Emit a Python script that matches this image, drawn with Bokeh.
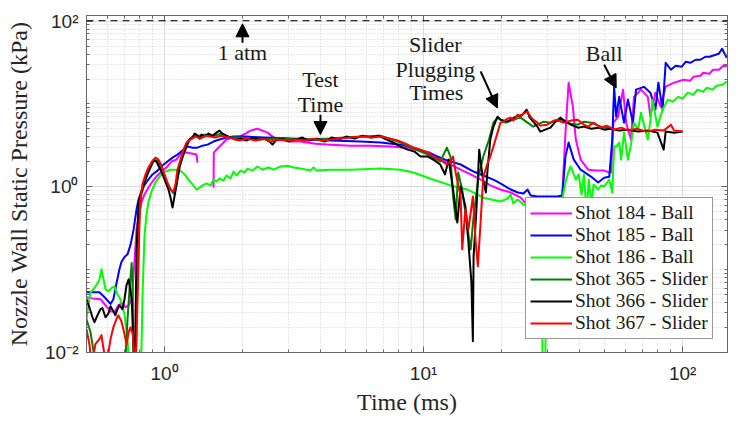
import numpy as np
from bokeh.plotting import figure
from bokeh.models import (Range1d, FixedTicker, LogAxis, Span, Arrow, NormalHead,
                          Label, Legend, LegendItem, CustomJSTickFormatter)
from bokeh.embed import file_html
from bokeh.resources import INLINE

nan = float("nan")

# ---------------- data (time in ms, pressure in kPa) ----------------
T184 = [0.500, 0.527, 0.566, 0.592, 0.619, 0.641, 0.664, 0.688, 0.707, 0.727, 0.747, 0.767, 0.780, 0.801, 0.815, 0.837, 0.867, 0.899, 0.931, 0.974, 1.018, 1.064, 1.112, 1.163, 1.216, 1.271, 1.329, 1.341, nan, 1.546, 1.55, 1.588, 1.630, 1.690, 1.735, 1.831, 1.948, 2.055, 2.148, 2.285, 2.389, 2.500, 2.613, 2.755, 3.066, 3.351, 3.828, 4.373, 5.23, 6.24, 7.46, 8.52, 9.31, 10.6, 11.6, 12.7, 13.9, 15.2, 16.6, 18.1, 19.8, 21.7, 23.7, 24.8, 27.0, 29.5, 32.8, 34.3, 35.3, 36.3, 37.7, 38.7, 40.4, 43.2, 46.1, 49.8, 52.1, 53.0, 54.0, 56.4, 58.9, 60.5, 63.2, 64.9, 69.1, 73.4, 75.1, 78.5, 82.2, 86.0, 92.7, 100.9, 107, 110, 117, 120, 127, 131, 138, 145, 148]
P184 = [0.0464, 0.045, 0.044, 0.0372, 0.0315, 0.0307, 0.0372, 0.0393, 0.0351, 0.0372, 0.044, 0.133, 0.306, 0.504, 0.654, 0.807, 0.981, 1.16, 1.33, 1.53, 1.71, 2.02, 2.13, 2.59, 2.59, 2.52, 2.45, 1.96, nan, 0.98, 2.59, 2.81, 3.06, 3.42, 3.72, 3.93, 4.04, 4.39, 4.77, 5.03, 4.77, 4.51, 4.04, 3.72, 3.52, 3.52, 3.32, 3.23, 3.14, 3.14, 3.06, 2.97, 2.81, 2.59, 2.13, 1.86, 1.61, 1.41, 1.22, 1.04, 0.928, 0.854, 0.74, 0.63, 0.72, 0.703, 0.665, 0.764, 4.51, 18.1, 9.28, 3.72, 2.13, 1.61, 1.57, 1.57, 1.49, 1.49, 5.95, 7.03, 14.9, 5.95, 3.72, 12.2, 14.9, 12.2, 7.03, 13.7, 9.3, 16.2, 18.1, 19.6, 19.1, 21.3, 21.9, 23.8, 23.2, 25.9, 25.9, 29.7, 28.1]

T185 = [0.500, 0.527, 0.561, 0.587, 0.619, 0.635, 0.652, 0.670, 0.682, 0.701, 0.720, 0.740, 0.760, 0.780, 0.794, 0.822, 0.860, 0.899, 0.940, 0.982, 1.027, 1.074, 1.122, 1.174, 1.227, 1.283, 1.341, 1.402, 1.466, 1.546, 1.630, 1.735, 1.847, 2.073, 2.413, 3.066, 4.373, 5.71, 6.82, 8.15, 9.14, 10.9, 12.1, 13.9, 15.6, 17.0, 18.6, 19.8, 21.7, 23.1, 24.3, 25.2, 25.9, 27.5, 30.0, 32.8, 34.3, 35.3, 36.3, 38.0, 40.4, 44.4, 47.2, 49.8, 52.1, 53.5, 54.4, 55.4, 56.9, 59.4, 61.5, 64.3, 66.1, 70.9, 75.1, 78.5, 80.6, 83.7, 86.0, 90.1, 94.0, 99.1, 102.7, 107, 112.3, 117, 122.7, 127, 134.1, 138, 142, 148]
P185 = [0.0533, 0.0533, 0.0533, 0.0464, 0.0386, 0.044, 0.0672, 0.101, 0.124, 0.142, 0.153, 0.202, 0.306, 0.533, 0.703, 0.954, 1.19, 1.41, 1.57, 1.81, 2.02, 2.25, 2.45, 2.74, 3.06, 2.97, 2.97, 3.14, 3.23, 3.52, 3.72, 3.93, 4.04, 4.04, 3.93, 3.82, 3.62, 3.52, 3.42, 3.23, 2.97, 2.45, 2.13, 1.86, 1.53, 1.37, 1.22, 1.10, 0.928, 0.854, 0.83, 0.928, 0.786, 0.764, 0.764, 0.764, 0.786, 2.32, 3.42, 2.13, 1.61, 1.32, 1.13, 1.29, 1.32, 3.72, 16.1, 7.03, 12.2, 5.95, 11.3, 5.95, 14.9, 16.1, 13.7, 8.54, 18.1, 8.54, 31.4, 25.9, 28.9, 28.1, 32.3, 31.4, 34.2, 34.2, 37.2, 37.2, 39.3, 40.4, 46.4, 36.1]

T186 = [0.500, 0.509, 0.518, 0.532, 0.546, 0.561, 0.571, 0.582, 0.592, 0.608, 0.624, 0.641, 0.658, 0.676, 0.701, 0.720, 0.733, 0.801, 0.815, 0.822, 0.837, 0.852, 0.867, 0.891, 0.923, 0.965, 1.009, 1.055, 1.103, 1.153, 1.195, 1.238, 1.283, 1.329, 1.353, 1.402, 1.453, 1.505, 1.546, 1.588, 1.630, 1.690, 1.735, 1.798, 1.847, 1.897, 1.965, 2.037, 2.092, 2.187, 2.285, 2.389, 2.521, 2.637, 2.805, 2.985, 3.148, 3.351, 3.663, 3.760, 3.863, 4.373, 5.23, 6.82, 8.15, 9.14, 10.6, 12.7, 14.8, 17.0, 19.8, 21.1, 21.7, 22.2, 23.1, 24.3, 25.9, 27.5, 28.6, 28.8, 29.5, 29.8, 31.5, 32.8, 34.3, 35.3, 36.3, 37.0, 38.7, 39.7, 40.7, 41.6, 42.6, 43.4, 44.5, 45.3, 47.2, 48.5, 49.8, 52.1, 53.5, 54.4, 55.4, 56.9, 57.9, 59.4, 61.5, 63.2, 64.9, 67.3, 69.1, 70.9, 73.4, 75.1, 76.5, 79.9, 83.7, 87.6, 91.5, 96.3, 100, 104.6, 110, 114, 120, 124, 130.6, 135, 142.6, 148]
P186 = [0.0252, 0.0382, 0.053, 0.058, 0.065, 0.0764, 0.101, 0.0764, 0.058, 0.0548, 0.06, 0.0629, 0.0504, 0.044, 0.0289, 0.0145, 0.005, 0.005, 0.011, 0.044, 0.252, 0.46, 0.654, 0.878, 1.13, 1.37, 1.53, 1.61, 1.61, 1.57, 1.41, 1.22, 1.07, 0.928, 0.954, 1.04, 1.10, 1.04, 1.22, 1.16, 1.26, 1.19, 1.37, 1.26, 1.53, 1.37, 1.57, 1.49, 1.66, 1.57, 1.76, 1.61, 1.71, 1.61, 1.76, 1.80, 1.71, 1.66, 1.57, 1.71, 1.57, 1.61, 1.61, 1.66, 1.61, 1.49, 1.26, 1.04, 0.928, 0.74, 0.665, 0.72, 0.807, 0.63, 0.703, 0.612, 0.563, 0.50, 0.355, 0.005, 0.005, 0.46, 0.612, 0.533, 0.703, 1.13, 1.55, 1.76, 1.22, 1.41, 0.807, 1.41, 0.46, 1.22, 0.612, 1.07, 0.928, 1.04, 1.01, 1.22, 0.85, 3.06, 3.06, 3.42, 2.13, 4.51, 2.13, 3.23, 5.95, 4.90, 7.86, 5.63, 3.72, 6.47, 11.3, 5.33, 8.54, 11.3, 10.66, 12.2, 11.58, 13.7, 12.9, 14.9, 14.06, 15.7, 14.9, 16.6, 17.1, 18.6]

T365 = [0.500, 0.518, 0.532, 0.541, 0.701, 0.720, 0.733, 0.747, 0.754, 0.760, 0.773, 0.787, 0.801, 0.815, 0.845, 0.883, 0.915, 0.948, 0.982, 1.018, 1.055, 1.083, 1.112, 1.143, 1.184, 1.227, 1.283, 1.353, 1.440, 1.532, 1.645, 1.798, 1.965, 2.349, 2.805, 3.351, 4.373, 5.71, 6.82, 8.15, 9.14, 10.4, 11.6, 12.3, 12.7, 13.0, 13.3, 13.6, 14.1, 14.8, 15.2, 15.6, 16.3, 17.0, 17.9, 18.6, 19.3, 19.8, 20.7, 22.2, 23.7, 25.2, 26.5, 27.5, 29.1, 30.9, 32.8, 34.6, 37.0, 39.4, 41.6, 44.4, 47.2, 49.8, 53.0]
P365 = [0.0252, 0.0176, 0.0104, 0.005, 0.005, 0.0252, 0.058, 0.120, 0.058, 0.005, 0.005, 0.0764, 0.464, 0.807, 1.22, 1.81, 2.13, 2.02, 1.53, 1.16, 0.928, 0.831, 1.07, 1.71, 2.66, 3.52, 4.04, 4.14, 4.27, 4.04, 4.39, 3.93, 3.93, 3.72, 3.82, 3.72, 3.82, 4.04, 4.14, 3.42, 2.89, 2.45, 2.02, 2.97, 2.32, 0.764, 0.404, 1.49, 0.928, 0.306, 0.176, 0.444, 1.32, 2.32, 3.72, 5.95, 6.84, 6.47, 5.95, 6.47, 6.84, 5.95, 5.33, 5.63, 6.12, 5.95, 6.3, 6.12, 5.79, 5.63, 6.12, 5.95, 5.48, 5.18, 5.18]

T366 = [0.500, 0.513, 0.527, 0.537, 0.551, 0.566, 0.576, 0.592, 0.608, 0.619, 0.635, 0.646, 0.658, 0.670, 0.688, 0.701, 0.714, 0.727, 0.733, 0.747, 0.760, 0.767, 0.780, 0.794, 0.815, 0.852, 0.883, 0.906, 0.931, 0.965, 0.991, 1.018, 1.036, 1.055, 1.074, 1.093, 1.112, 1.143, 1.184, 1.216, 1.249, 1.283, 1.306, 1.329, 1.365, 1.389, 1.427, 1.479, 1.532, 1.588, 1.630, 1.675, 1.735, 1.798, 1.880, 1.965, 2.073, 2.187, 2.307, 2.433, 2.544, 2.613, 2.683, 2.855, 3.012, 3.205, 3.410, 3.597, 3.863, 4.148, 4.414, 4.697, 5.043, 5.415, 5.814, 6.243, 6.704, 7.198, 7.659, 8.15, 8.675, 9.23, 9.74, 10.4, 10.9, 11.6, 12.1, 12.5, 13.0, 13.5, 13.9, 14.5, 14.9, 15.3, 15.5, 15.6, 16.0, 16.4, 16.9, 17.4, 17.7, 18.1, 18.6, 19.3, 19.8, 21.1, 22.7, 24.1, 25.0, 25.7, 26.5, 27.5, 28.2, 29.5, 30.9, 32.3, 33.7, 35.3, 37.0, 39.4, 41.6, 44.4, 47.2, 49.8, 53.0, 56.9, 61.5, 67.3, 73.4, 79.9, 84.5, 86.0, 92.7, 100]
P366 = [0.044, 0.0351, 0.0266, 0.0232, 0.0281, 0.0333, 0.0343, 0.0266, 0.0297, 0.0361, 0.0315, 0.0281, 0.0333, 0.0372, 0.0333, 0.044, 0.0654, 0.0764, 0.065, 0.044, 0.011, 0.005, 0.162, 0.647, 0.878, 1.33, 1.71, 2.07, 2.02, 1.61, 1.33, 1.07, 0.928, 0.743, 0.563, 0.764, 1.037, 1.757, 2.45, 3.06, 3.72, 3.93, 4.39, 4.27, 3.82, 4.27, 4.04, 4.39, 4.14, 4.51, 4.77, 4.39, 4.14, 3.93, 3.72, 3.82, 3.62, 3.93, 3.72, 3.82, 3.52, 3.23, 3.62, 3.82, 3.52, 3.72, 3.93, 3.62, 3.82, 3.52, 3.93, 3.72, 4.04, 3.82, 4.14, 3.93, 4.14, 3.72, 3.42, 3.06, 2.81, 2.66, 2.32, 2.32, 2.13, 1.86, 1.41, 2.13, 0.928, 0.37, 1.01, 0.585, 0.213, 0.0703, 0.0137, 0.1446, 0.533, 2.81, 1.32, 0.854, 1.76, 3.72, 5.3, 7.03, 6.47, 6.12, 7.03, 7.43, 8.54, 6.84, 6.12, 5.33, 4.64, 4.90, 5.18, 6.12, 6.84, 6.12, 5.63, 5.18, 5.33, 5.03, 5.18, 4.90, 5.03, 4.77, 4.90, 4.64, 4.77, 4.51, 2.81, 4.64, 4.51, 4.64]

T367 = [0.500, 0.513, 0.524, 0.541, 0.561, 0.571, 0.582, 0.597, 0.619, 0.635, 0.652, 0.664, 0.682, 0.701, 0.714, 0.727, 0.740, 0.754, 0.767, 0.773, 0.787, 0.794, 0.801, 0.808, 0.822, 0.845, 0.867, 0.899, 0.923, 0.948, 0.974, 1.000, 1.027, 1.055, 1.083, 1.103, 1.122, 1.153, 1.184, 1.216, 1.260, 1.317, 1.377, 1.440, 1.505, 1.574, 1.645, 1.782, 1.948, 2.073, 2.246, 2.413, 2.566, 2.805, 3.066, 3.262, 3.50, 3.760, 4.000, 4.373, 4.781, 5.23, 5.87, 6.36, 6.82, 7.46, 7.94, 8.52, 9.14, 9.74, 10.4, 10.9, 11.6, 12.3, 12.7, 13.0, 13.3, 13.6, 13.9, 14.1, 14.5, 14.9, 15.5, 15.9, 16.2, 16.6, 17.0, 17.7, 18.1, 18.6, 19.3, 19.8, 20.3, 21.1, 21.7, 22.2, 23.1, 23.7, 24.3, 25.2, 25.9, 26.5, 27.5, 28.2, 30.0, 31.8, 32.8, 34.6, 37.0, 39.4, 41.6, 43.2, 45.3, 48.2, 50.9, 54.4, 57.9, 61.9, 66.4, 72.6, 78.5, 84.5, 90.1, 92.7, 100]
P367 = [0.0191, 0.0126, 0.007, 0.0126, 0.0145, 0.0162, 0.011, 0.007, 0.0145, 0.0202, 0.0252, 0.0281, 0.0238, 0.0166, 0.0126, 0.0176, 0.0202, 0.0166, 0.009, 0.006, 0.044, 0.133, 0.404, 0.703, 1.07, 1.41, 1.71, 2.07, 2.25, 2.13, 1.81, 1.41, 1.127, 0.928, 0.878, 1.07, 1.61, 2.13, 2.81, 3.42, 3.72, 4.04, 3.82, 4.14, 4.04, 3.93, 4.14, 3.93, 3.62, 3.82, 3.62, 3.82, 3.52, 3.72, 3.62, 3.72, 3.62, 3.82, 3.62, 3.72, 3.82, 3.93, 4.04, 3.93, 4.04, 3.82, 3.62, 3.32, 2.98, 2.81, 2.59, 2.32, 2.13, 1.86, 2.02, 2.32, 1.49, 1.07, 0.764, 0.176, 0.533, 0.306, 0.764, 0.213, 0.110, 0.371, 1.32, 1.96, 2.32, 3.06, 4.51, 5.95, 6.1, 6.65, 6.84, 6.3, 7.43, 7.03, 7.64, 8.07, 7.03, 6.47, 5.95, 5.48, 5.63, 6.29, 6.47, 5.95, 6.3, 6.47, 5.63, 5.33, 5.95, 5.18, 5.48, 4.90, 5.18, 4.77, 5.03, 4.64, 4.90, 4.77, 5.63, 4.77, 4.64]

SERIES_NAMES = ["Shot 184 - Ball", "Shot 185 - Ball", "Shot 186 - Ball",
                "Shot 365 - Slider", "Shot 366 - Slider", "Shot 367 - Slider"]
SERIES_T = [T184, T185, T186, T365, T366, T367]
SERIES_P = [P184, P185, P186, P365, P366, P367]
COLORS = ["#ff00ff", "#0000ff", "#00ff00", "#008000", "#000000", "#ff0000"]

ATM_KPA = 101.325
X_RANGE = (0.5, 149)
Y_RANGE = (0.01, 117)
X_MAJOR = [1, 10, 100]
X_LABELS = {1: "10\u2070", 10: "10\u00b9", 100: "10\u00b2"}
Y_MAJOR = [0.01, 1, 100]
Y_LABELS = {0.01: "10\u207b\u00b2", 1: "10\u2070", 100: "10\u00b2"}

# annotations: (text, x, y)
NOTES = [("1 atm", 2.0, 41.5), ("Test", 4.0, 19.6), ("Time", 4.0, 9.8),
         ("Slider", 11.1, 51.8), ("Plugging", 11.1, 25.9), ("Times", 11.2, 13.6),
         ("Ball", 49.8, 41.2)]
ARROWS = [(2.0, 54.8, 2.0, 92.8), (4.0, 7.43, 4.0, 4.27),
          (16.6, 24.7, 19.26, 8.95), (49.8, 29.8, 55.4, 15.6)]

# ---------------- figure ----------------
AX = "#666666"
SERIF = "Liberation Serif"
SANS = "Liberation Sans"

p = figure(width=743, height=424, x_axis_type="log", y_axis_type="log",
           x_range=Range1d(*X_RANGE), y_range=Range1d(*Y_RANGE),
           output_backend="svg", toolbar_location=None,
           min_border_left=86, min_border_right=16, min_border_top=15, min_border_bottom=72)
p.background_fill_color = "white"
p.border_fill_color = "white"
p.outline_line_color = AX
p.outline_line_width = 1

minor_x = [m * 10.0 ** e for e in (-1, 0, 1, 2) for m in range(1, 10) if m * 10.0 ** e not in X_MAJOR]
minor_y = [m * 10.0 ** e for e in (-2, -1, 0, 1, 2) for m in range(1, 10)
           if round(m * 10.0 ** e, 6) not in Y_MAJOR]
xt = FixedTicker(ticks=X_MAJOR, minor_ticks=minor_x)
yt = FixedTicker(ticks=Y_MAJOR, minor_ticks=minor_y)

for ax in (p.xaxis[0], p.yaxis[0]):
    ax.axis_line_color = AX
    ax.major_tick_line_color = AX
    ax.minor_tick_line_color = AX
    ax.major_tick_in = 6
    ax.major_tick_out = 0
    ax.minor_tick_in = 3
    ax.minor_tick_out = 0
    ax.major_label_text_font = SANS
    ax.major_label_text_font_size = "19px"
    ax.major_label_text_color = "#262626"
    ax.axis_label_text_font = SERIF
    ax.axis_label_text_font_size = "24px"
    ax.axis_label_text_font_style = "normal"
    ax.axis_label_text_color = "#262626"

p.xaxis[0].ticker = xt
p.yaxis[0].ticker = yt
p.xaxis[0].major_label_overrides = X_LABELS
p.yaxis[0].major_label_overrides = Y_LABELS
p.xaxis[0].axis_label = "Time (ms)"
p.yaxis[0].axis_label = "Nozzle Wall Static Pressure (kPa)"
p.xaxis[0].major_label_standoff = 10
p.yaxis[0].major_label_standoff = 8
p.xaxis[0].axis_label_standoff = 2
p.yaxis[0].axis_label_standoff = 10

blank = CustomJSTickFormatter(code="return ''")
top = LogAxis(ticker=xt, formatter=blank, major_label_text_font_size="1px",
              axis_line_color=AX, major_tick_line_color=AX, minor_tick_line_color=AX,
              major_tick_in=6, major_tick_out=0, minor_tick_in=3, minor_tick_out=0)
right = LogAxis(ticker=yt, formatter=blank, major_label_text_font_size="1px",
                axis_line_color=AX, major_tick_line_color=AX, minor_tick_line_color=AX,
                major_tick_in=6, major_tick_out=0, minor_tick_in=3, minor_tick_out=0)
p.add_layout(top, "above")
p.add_layout(right, "right")

for g in (p.xgrid[0], p.ygrid[0]):
    g.grid_line_color = "#dcdcdc"
    g.grid_line_width = 1
    g.minor_grid_line_color = "#d0d0d0"
    g.minor_grid_line_dash = "1 2"
    g.minor_grid_line_width = 1
p.xgrid[0].ticker = xt
p.ygrid[0].ticker = yt

p.add_layout(Span(location=ATM_KPA, dimension="width", line_color="black",
                  line_dash="7 5", line_width=1))

items = []
for name, t, pr, c in zip(SERIES_NAMES, SERIES_T, SERIES_P, COLORS):
    r = p.line(np.array(t, dtype=float), np.array(pr, dtype=float),
               line_color=c, line_width=2, line_join="round")
    items.append(LegendItem(label=name, renderers=[r]))

for txt, x, y in NOTES:
    p.add_layout(Label(x=x, y=y, text=txt, text_align="center", text_baseline="middle",
                       text_font=SERIF, text_font_size="22px", text_color="#1a1a1a"))
for x0, y0, x1, y1 in ARROWS:
    p.add_layout(Arrow(end=NormalHead(size=13, fill_color="black", line_color="black"),
                       x_start=x0, y_start=y0, x_end=x1, y_end=y1,
                       line_color="black", line_width=2))

legend = Legend(items=items, location=(439, 13), margin=0, padding=4, spacing=0,
                glyph_width=42, glyph_height=20, label_height=20, label_standoff=3,
                label_text_font=SERIF, label_text_font_size="19.5px",
                label_text_color="#1a1a1a", border_line_color="#333333",
                border_line_width=1, background_fill_alpha=1.0)
p.add_layout(legend, "center")

open("out.html", "w").write(file_html(p, INLINE))
